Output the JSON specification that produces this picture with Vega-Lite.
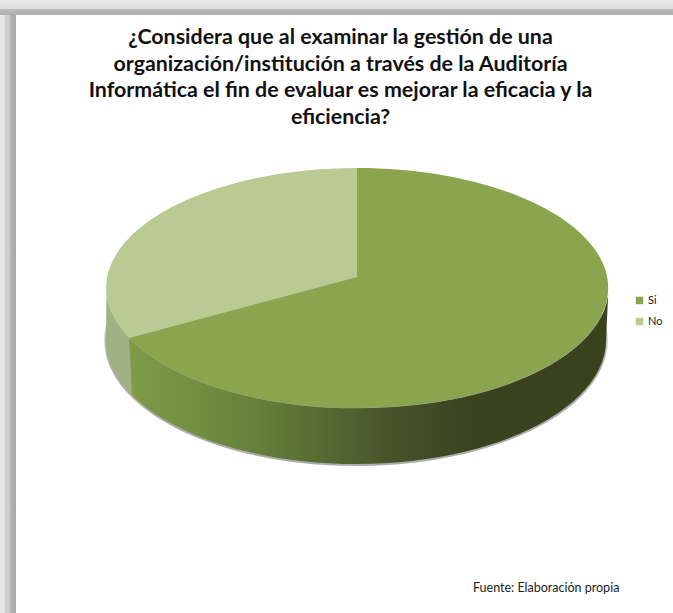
{"$schema":"https://vega.github.io/schema/vega-lite/v6.json","width":673,"height":613,"padding":0,"autosize":{"type":"none"},"background":"white","view":{"stroke":null},
"title":{"text":["¿Considera que al examinar la gestión de una","        organización/institución a través de la Auditoría","Informática el fin de evaluar es mejorar la eficacia y la","eficiencia?"],"font":"Lato","fontSize":21.4,"fontWeight":"bold","color":"#111111","lineHeight":26.5,"anchor":"middle","frame":"group","offset":-128,"dx":4,"baseline":"top"},
"data":{"values":[{"category":"Si","value":67},{"category":"No","value":33}]},
"layer":[
{"transform":[{"filter":"datum.category==='Si'"}],"mark":{"type":"rect","fill":{"gradient":"linear","x1":0,"y1":0,"x2":0,"y2":1,"stops":[{"offset":0,"color":"#e9e9e9"},{"offset":0.3,"color":"#e4e4e4"},{"offset":0.6,"color":"#dcdcdc"},{"offset":0.63,"color":"#bcbcbc"},{"offset":1,"color":"#adadad"}]}},"encoding":{"x":{"datum":-357,"type":"quantitative","scale":{"domain":[-357,316],"nice":false,"zero":false},"axis":null},"x2":{"datum":316},"y":{"datum":277,"type":"quantitative","scale":{"domain":[-336,277],"nice":false,"zero":false},"axis":null},"y2":{"datum":262}}},
{"transform":[{"filter":"datum.category==='Si'"}],"mark":{"type":"rect","fill":{"gradient":"linear","x1":0,"y1":0,"x2":1,"y2":0,"stops":[{"offset":0,"color":"#e9e9e9"},{"offset":0.3,"color":"#e4e4e4"},{"offset":0.34,"color":"#d0d0d0"},{"offset":0.62,"color":"#cccccc"},{"offset":0.65,"color":"#b4b4b4"},{"offset":1,"color":"#a8a8a8"}]}},"encoding":{"x":{"datum":-357,"type":"quantitative","scale":{"domain":[-357,316],"nice":false,"zero":false},"axis":null},"x2":{"datum":-341},"y":{"datum":262,"type":"quantitative","scale":{"domain":[-336,277],"nice":false,"zero":false},"axis":null},"y2":{"datum":-336}}},
{"transform":[{"filter":"datum.category==='Si'"}],"mark":{"type":"point","filled":true,"size":4,"fill":"#000000","opacity":1,"fillOpacity":0.14,"stroke":null,"shape":"M-253,63 A252 126 0 1 0 251,63 A252 126 0 1 0 -253,63 Z"},"encoding":{"x":{"datum":0,"type":"quantitative","scale":{"domain":[-357,316],"nice":false,"zero":false},"axis":null},"y":{"datum":0,"type":"quantitative","scale":{"domain":[-336,277],"nice":false,"zero":false},"axis":null}}},
{"transform":[{"filter":"datum.category==='Si'"}],"mark":{"type":"point","filled":true,"size":4,"fill":"#000000","opacity":1,"fillOpacity":0.22,"stroke":null,"shape":"M-252,64 A251 125 0 1 0 250,64 A251 125 0 1 0 -252,64 Z"},"encoding":{"x":{"datum":0,"type":"quantitative","scale":{"domain":[-357,316],"nice":false,"zero":false},"axis":null},"y":{"datum":0,"type":"quantitative","scale":{"domain":[-336,277],"nice":false,"zero":false},"axis":null}}},
{"transform":[{"filter":"datum.category==='No'"}],"mark":{"type":"point","filled":true,"size":4,"opacity":1,"fill":"#a0b184","stroke":null,"shape":"M-228,61 A251 120 0 0 1 -250.5,11 L-251,63 A250 124 0 0 0 -225,118 Z"},"encoding":{"x":{"datum":0,"type":"quantitative","scale":{"domain":[-357,316],"nice":false,"zero":false},"axis":null},"y":{"datum":0,"type":"quantitative","scale":{"domain":[-336,277],"nice":false,"zero":false},"axis":null}}},
{"transform":[{"filter":"datum.category==='Si'"}],"mark":{"type":"point","filled":true,"size":4,"opacity":1,"stroke":null,"fill":{"gradient":"linear","x1":0,"y1":0,"x2":1,"y2":0,"stops":[{"offset":0,"color":"#7f9c48"},{"offset":0.27,"color":"#64803a"},{"offset":0.54,"color":"#47552a"},{"offset":0.72,"color":"#38431e"},{"offset":1,"color":"#38431e"}]},"shape":"M-228,61 A251 120 0 0 0 251.5,11 L249,63 A250 124 0 0 1 -225,118 Z"},"encoding":{"x":{"datum":0,"type":"quantitative","scale":{"domain":[-357,316],"nice":false,"zero":false},"axis":null},"y":{"datum":0,"type":"quantitative","scale":{"domain":[-336,277],"nice":false,"zero":false},"axis":null}}},
{"transform":[{"filter":"datum.category==='Si'"}],"mark":{"type":"point","filled":true,"size":4,"opacity":1,"shape":"M0,0 L-228,61 A251 120 0 1 0 0,-109 Z"},"encoding":{"x":{"datum":0,"type":"quantitative","scale":{"domain":[-357,316],"nice":false,"zero":false},"axis":null},"y":{"datum":0,"type":"quantitative","scale":{"domain":[-336,277],"nice":false,"zero":false},"axis":null},
"color":{"field":"category","type":"nominal","scale":{"domain":["Si","No"],"range":["#8aa54e","#b9cb93"]},"legend":{"orient":"none","legendX":634,"legendY":295,"title":null,"symbolType":"square","symbolSize":56,"symbolStrokeWidth":0,"symbolOpacity":1,"labelFont":"Lato","labelFontSize":11,"labelColor":"#1a1a1a","labelOffset":3,"rowPadding":9,"padding":0}},"tooltip":{"field":"value","type":"quantitative"}}},
{"transform":[{"filter":"datum.category==='No'"}],"mark":{"type":"point","filled":true,"size":4,"opacity":1,"shape":"M0,0 L0,-109 A251 120 0 0 0 -228,61 Z"},"encoding":{"x":{"datum":0,"type":"quantitative","scale":{"domain":[-357,316],"nice":false,"zero":false},"axis":null},"y":{"datum":0,"type":"quantitative","scale":{"domain":[-336,277],"nice":false,"zero":false},"axis":null},
"color":{"field":"category","type":"nominal","scale":{"domain":["Si","No"],"range":["#8aa54e","#b9cb93"]},"legend":{"orient":"none","legendX":634,"legendY":295,"title":null,"symbolType":"square","symbolSize":56,"symbolStrokeWidth":0,"symbolOpacity":1,"labelFont":"Lato","labelFontSize":11,"labelColor":"#1a1a1a","labelOffset":3,"rowPadding":9,"padding":0}},"tooltip":{"field":"value","type":"quantitative"}}},
{"transform":[{"filter":"datum.category==='Si'"}],"mark":{"type":"text","font":"Lato","fontSize":12.5,"color":"#222222","align":"left","baseline":"middle"},"encoding":{"x":{"datum":116,"type":"quantitative","scale":{"domain":[-357,316],"nice":false,"zero":false},"axis":null},"y":{"datum":-311,"type":"quantitative","scale":{"domain":[-336,277],"nice":false,"zero":false},"axis":null},"text":{"value":"Fuente: Elaboración propia"}}}
]}
